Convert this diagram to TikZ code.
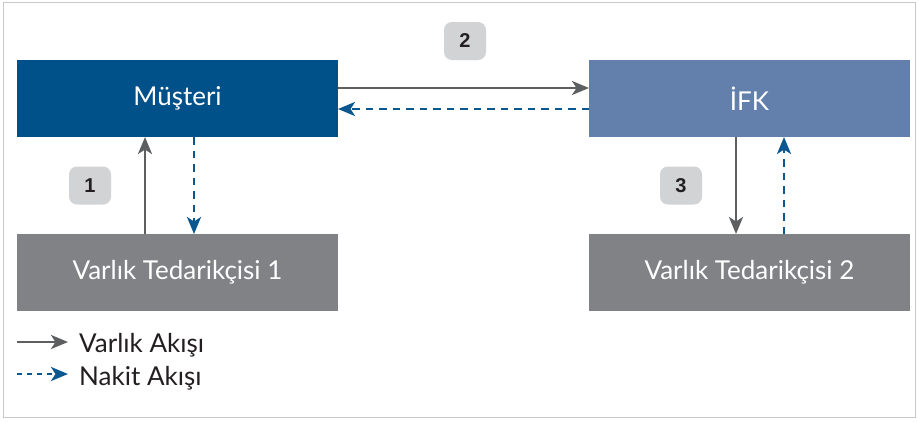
\documentclass[tikz,border=0pt]{standalone}
\usepackage{fontspec}
\setmainfont{Lato}
\newfontfamily\numfont{Liberation Sans}
\usepackage{xcolor}
\usepackage{tikz}
\usetikzlibrary{shapes,arrows.meta,positioning}

\definecolor{custblue}{HTML}{00508A}
\definecolor{ifkblue}{HTML}{6380AC}
\definecolor{supgray}{HTML}{808285}
\definecolor{flowgray}{HTML}{5E5F61}
\definecolor{cashblue}{HTML}{0B5790}
\definecolor{badgegray}{HTML}{D1D3D4}
\definecolor{framegray}{HTML}{C8C8C8}
\definecolor{inkdark}{HTML}{231F20}

\begin{document}
\begin{tikzpicture}[x=1pt, y=1pt, node distance=97pt and 251pt]
\tikzstyle{party} = [rectangle, text=white, minimum width=321pt, minimum height=77pt, inner sep=0pt, outer sep=0pt, font=\fontsize{26}{30}\selectfont]
\tikzstyle{badge} = [rectangle, fill=badgegray, rounded corners=8pt, minimum width=42pt, minimum height=38pt, text=inkdark, font=\numfont\bfseries\fontsize{20}{22}\selectfont]
\tikzstyle{legend} = [inner sep=0pt, text=inkdark, font=\fontsize{26}{30}\selectfont]
\tikzstyle{asset} = [line width=2.8pt, draw=flowgray, -{Stealth[length=17pt, width=14pt, inset=4.5pt]}]
\tikzstyle{cash} = [line width=2.8pt, draw=cashblue, dash pattern=on 7.5pt off 6pt, -{Stealth[length=17pt, width=14pt, inset=4.5pt]}]

\useasboundingbox (0,0) rectangle (918,-421);
\draw [framegray, line width=1pt] (3,-2) rectangle (915,-417);

\node [party, fill=custblue] (cust) at (177.5,-98.5) {Müşteri};
\node [party, fill=ifkblue, right=of cust] (ifk) {İFK};
\node [party, fill=supgray, below=of cust] (sup1) {Varlık Tedarikçisi 1};
\node [party, fill=supgray, below=of ifk] (sup2) {Varlık Tedarikçisi 2};

\node [badge] (step1) at (90,-185.5) {1};
\node [badge] (step2) at (465,-41) {2};
\node [badge] (step3) at (681,-185.5) {3};

\draw [asset] ([yshift=10.5pt]cust.east) -- ([yshift=10.5pt]ifk.west);
\draw [cash] ([yshift=-10.5pt]ifk.west) -- ([yshift=-10.5pt]cust.east);
\draw [asset] ([xshift=-32.5pt]sup1.north) -- ([xshift=-32.5pt]cust.south);
\draw [cash] ([xshift=16.5pt]cust.south) -- ([xshift=16.5pt]sup1.north);
\draw [asset] ([xshift=-13.5pt]ifk.south) -- ([xshift=-13.5pt]sup2.north);
\draw [cash] ([xshift=34.5pt]sup2.north) -- ([xshift=34.5pt]ifk.south);

% legend
\node [legend, anchor=base west] (assetkey) at (79,-352) {Varlık Akışı};
\node [legend, anchor=base west] (cashkey) at (79,-385) {Nakit Akışı};
\coordinate (assetstart) at (17,-342);
\coordinate (cashstart) at (17,-374);
\draw [asset, shorten >=11pt] (assetstart) -- (assetstart -| assetkey.west);
\draw [cash, dash pattern=on 5pt off 5pt, shorten >=11pt] (cashstart) -- (cashstart -| cashkey.west);
\end{tikzpicture}
\end{document}
